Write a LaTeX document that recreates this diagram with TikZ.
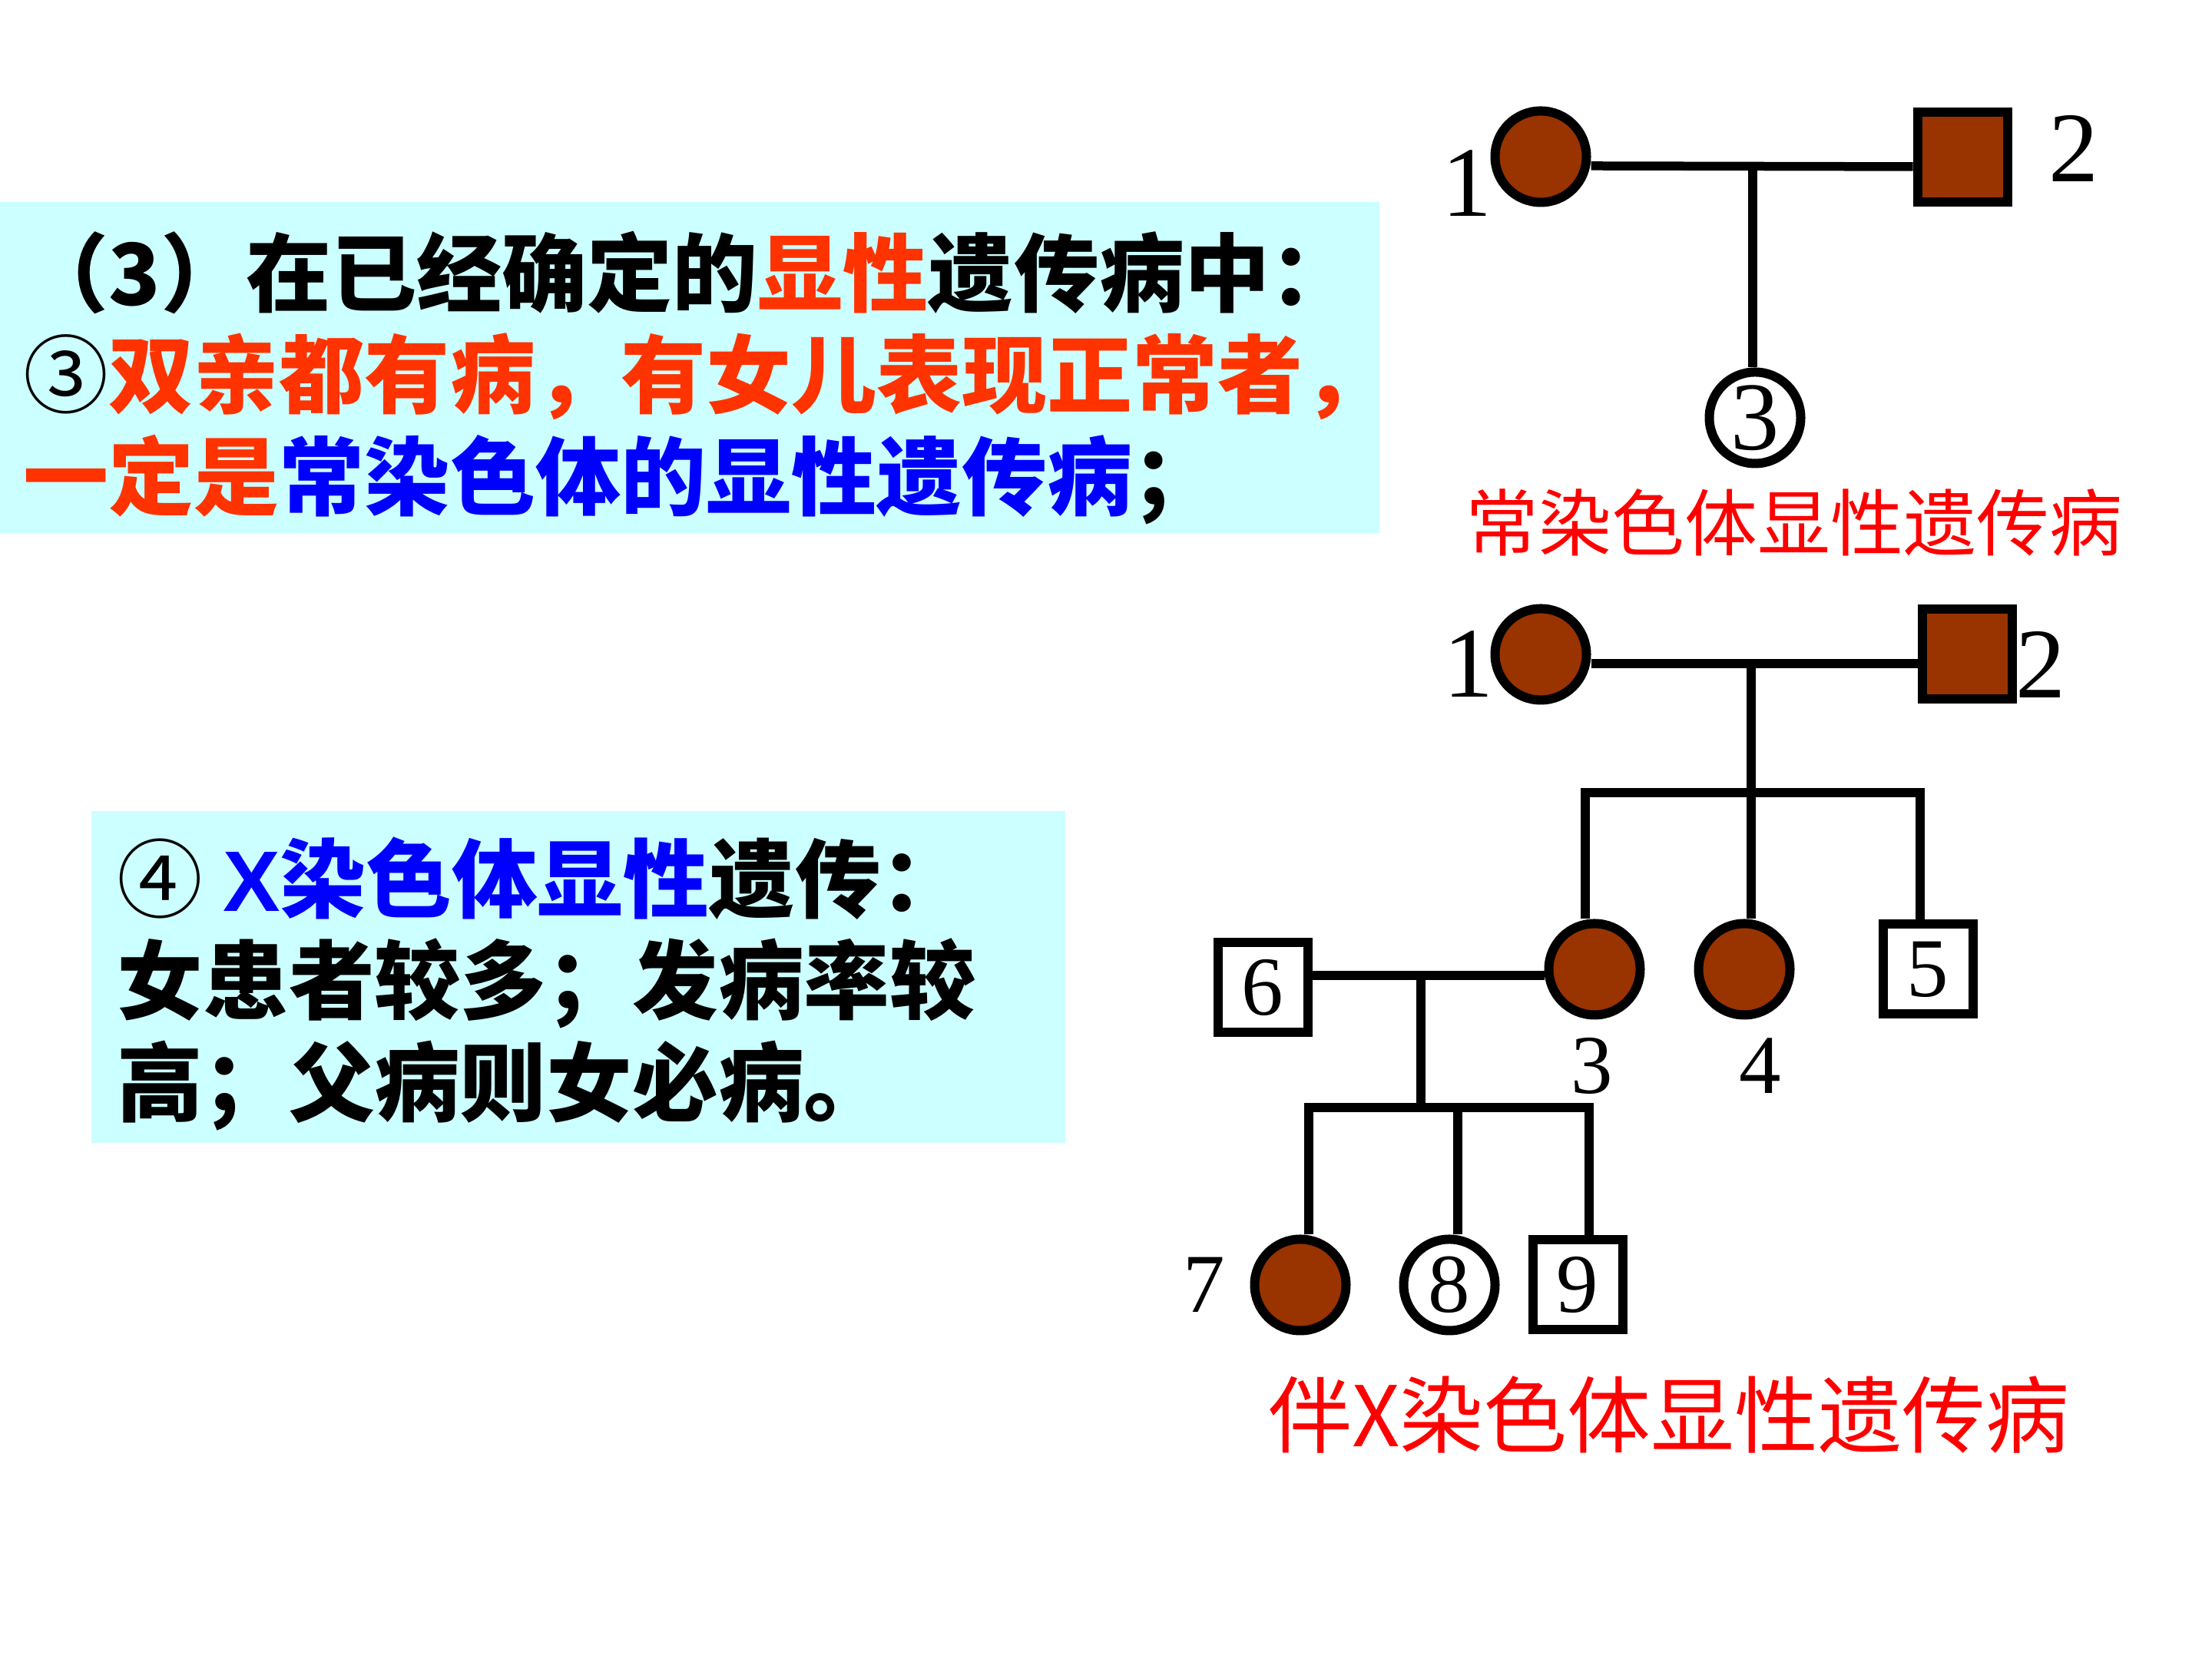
\documentclass[tikz,border=0pt]{standalone}
\usepackage{fontspec}
\setmainfont{Liberation Serif}
\newfontfamily\cjk{Noto Sans CJK SC}
\newfontfamily\arialb{Liberation Sans}
\definecolor{boxcyan}{HTML}{CCFFFF}
\definecolor{hotred}{HTML}{FF3300}
\definecolor{sickbrown}{HTML}{993300}

\begin{document}
\begin{tikzpicture}[
  female/.style={circle, draw, line width=1.2mm, minimum size=11.9mm, inner sep=0pt, font=\fontsize{31}{31}\selectfont},
  male/.style={rectangle, draw, line width=1.2mm, minimum size=11.7mm, inner sep=0pt, font=\fontsize{31}{31}\selectfont},
  ill/.style={fill=sickbrown},
  link/.style={line width=1.15mm},
  num/.style={inner sep=0pt, font=\fontsize{31}{31}\selectfont},
  bignum/.style={inner sep=0pt, font=\fontsize{37}{37}\selectfont},
  rule/.style={anchor=west, align=left, inner sep=0pt},
  verdict/.style={inner sep=0pt, text=red}]
  \useasboundingbox[fill=white] (0,0) rectangle (28.8,21.6);

  % text panels
  \fill[boxcyan] (0,14.66) rectangle (17.96,18.97);
  \fill[boxcyan] (1.19,6.72) rectangle (13.87,11.04);
  \node[rule, font=\cjk\bfseries\fontsize{31.6}{37.8}\selectfont] (rule3) at (0.3,16.68)
    {（3）在已经确定的{\color{hotred}显性}遗传病中：\\
     {\mdseries ③}{\color{hotred}双亲都有病，有女儿表现正常者，}\\
     {\color{hotred}一定是}{\color{blue}常染色体的显性遗传病}；};
  \node[rule, font=\cjk\bfseries\fontsize{31.8}{37.8}\selectfont] (rule4) at (1.52,8.79)
    {{\mdseries ④} {\color{blue}{\arialb\bfseries X}染色体显性}遗传：\\
     女患者较多；发病率较\\
     高；父病则女必病。};

  % autosomal dominant pedigree
  \node[female, ill] (a1) at (20.06,19.56) {};
  \node[male, ill] (a2) at (25.55,19.55) {};
  \node[female, font=\fontsize{36}{36}\selectfont] (a3) at (22.85,16.16) {3};
  \node[bignum] (a1n) at (19.10,19.21) {1};
  \node[bignum] (a2n) at (27.00,19.67) {2};
  \coordinate (am) at (22.82,19.43);
  \draw[link] ([yshift=-1.2mm]a1.east) -- ([yshift=-1.2mm]a2.west);
  \draw[link] (am) -- (am |- a3.north);
  \node[verdict, font=\cjk\fontsize{27}{27}\selectfont] (verdict1) at (23.36,14.80) {常染色体显性遗传病};

  % X-linked dominant pedigree
  \node[female, ill] (b1) at (20.06,13.08) {};
  \node[male, ill] (b2) at (25.61,13.08) {};
  \node[bignum] (b1n) at (19.12,12.95) {1};
  \node[bignum] (b2n) at (26.57,12.95) {2};
  \draw[link] ([yshift=-1.2mm]b1.east) -- ([yshift=-1.2mm]b2.west);
  \coordinate (bm) at (22.80,12.96);
  \coordinate (bs) at (22.80,11.28);
  \node[female, ill] (b3) at (20.76,8.98) {};
  \node[female, ill] (b4) at (22.71,8.98) {};
  \node[male] (b5) at (25.10,8.98) {5};
  \node[num] (b3n) at (20.73,7.72) {3};
  \node[num] (b4n) at (22.92,7.72) {4};
  \draw[link] (bm) -- (bs);
  \draw[link] (b3.north -| 20.64,0) |- (bs) -| (b5.north -| 25.0,0);
  \draw[link] (bs) -- (bs |- b4.north);

  \node[male] (b6) at (16.44,8.74) {6};
  \coordinate (cm) at (18.50,8.90);
  \coordinate (cs) at (18.50,7.18);
  \draw[link] (b6.east |- cm) -- (b3.west |- cm);
  \draw[link] (cm) -- (cs);
  \node[female, ill] (b7) at (16.93,4.87) {};
  \node[female] (b8) at (18.87,4.87) {8};
  \node[male] (b9) at (20.54,4.87) {9};
  \node[num] (b7n) at (15.68,4.87) {7};
  \draw[link] (b7.north -| 17.04,0) |- (cs) -| (b9.north -| 20.69,0);
  \draw[link] (cs -| 18.98,0) -- (b8.north -| 18.98,0);
  \node[verdict, font=\cjk\fontsize{31}{31}\selectfont] (verdict2) at (21.73,3.18) {伴X染色体显性遗传病};
\end{tikzpicture}
\end{document}
